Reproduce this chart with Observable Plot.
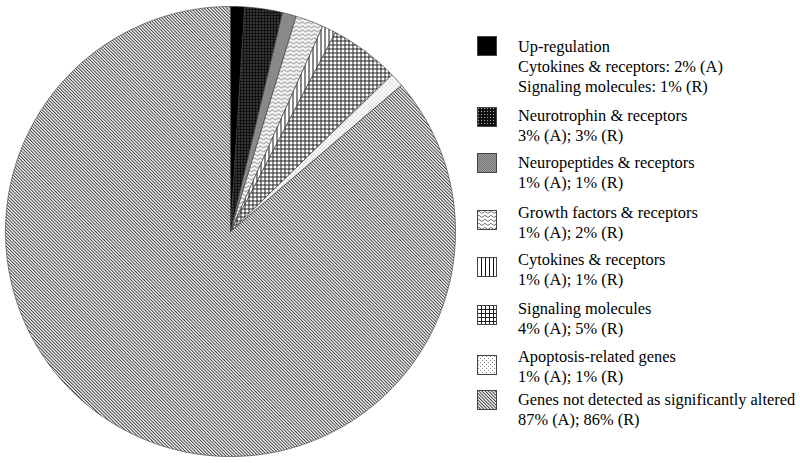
<!DOCTYPE html>
<html>
<head>
<meta charset="utf-8">
<script src="https://cdn.jsdelivr.net/npm/d3@7"></script>
<script src="https://cdn.jsdelivr.net/npm/@observablehq/plot@0.6"></script>
<style>
  html, body { margin: 0; padding: 0; background: #fff; }
  #wrap { position: relative; width: 800px; height: 463px; overflow: hidden; }
  #chart { position: absolute; left: 0; top: 0; }
  #legend { position: absolute; left: 0; top: 0; width: 800px; height: 463px; pointer-events: none;
            font-family: "Liberation Serif", "Times New Roman", serif; font-size: 16.4px; color: #000; }
  .sw { position: absolute; width: 20px; height: 20px; }
  .lb { position: absolute; left: 518px; line-height: 20px; white-space: nowrap; }
</style>
</head>
<body>
<svg width="0" height="0" style="position:absolute">
  <defs>
    <pattern id="p0" patternUnits="userSpaceOnUse" width="4" height="4">
      <rect width="4" height="4" fill="#000"/>
    </pattern>
    <pattern id="p1" patternUnits="userSpaceOnUse" width="3" height="3">
      <rect width="3" height="3" fill="#111"/>
      <rect x="1" y="1" width="1" height="1" fill="#aaa"/>
    </pattern>
    <pattern id="p2" patternUnits="userSpaceOnUse" width="2" height="2">
      <rect width="2" height="2" fill="#9a9a9a"/>
      <rect x="0" y="0" width="1" height="1" fill="#777"/>
      <rect x="1" y="1" width="1" height="1" fill="#777"/>
    </pattern>
    <pattern id="p3" patternUnits="userSpaceOnUse" width="6" height="4">
      <rect width="6" height="4" fill="#fff"/>
      <path d="M0,3 Q1.5,0 3,2 T6,3" fill="none" stroke="#555" stroke-width="0.9"/>
    </pattern>
    <pattern id="p4" patternUnits="userSpaceOnUse" width="4" height="4">
      <rect width="4" height="4" fill="#fff"/>
      <rect x="0" y="0" width="1" height="4" fill="#111"/>
    </pattern>
    <pattern id="p5" patternUnits="userSpaceOnUse" width="4" height="4">
      <rect width="4" height="4" fill="#fff"/>
      <rect x="0" y="0" width="1" height="4" fill="#222"/>
      <rect x="0" y="0" width="4" height="1" fill="#222"/>
    </pattern>
    <pattern id="p6" patternUnits="userSpaceOnUse" width="4" height="4">
      <rect width="4" height="4" fill="#fff"/>
      <rect x="1" y="1" width="1" height="1" fill="#888"/>
      <rect x="3" y="3" width="1" height="1" fill="#888"/>
    </pattern>
    <pattern id="p7" patternUnits="userSpaceOnUse" width="2.3" height="4" patternTransform="rotate(-45)">
      <rect width="2.3" height="4" fill="#fff"/>
      <rect x="0" y="0" width="1" height="4" fill="#3a3a3a"/>
    </pattern>
  </defs>
</svg>
<div id="wrap">
  <div id="chart"></div>
  <div id="legend"></div>
</div>
<script>
// ---- data ----
const categories = [
  "Up-regulation",
  "Neurotrophin & receptors",
  "Neuropeptides & receptors",
  "Growth factors & receptors",
  "Cytokines & receptors",
  "Signaling molecules",
  "Apoptosis-related genes",
  "Genes not detected as significantly altered"
];
// slice sizes (%)
const sliceValues = [1, 2.7, 1, 2, 1, 5, 1, 86];
// legend sub-lines
const legendDetails = [
  ["Cytokines & receptors: 2% (A)", "Signaling molecules: 1% (R)"],
  ["3% (A); 3% (R)"],
  ["1% (A); 1% (R)"],
  ["1% (A); 2% (R)"],
  ["1% (A); 1% (R)"],
  ["4% (A); 5% (R)"],
  ["1% (A); 1% (R)"],
  ["87% (A); 86% (R)"]
];
const patterns = ["p0","p1","p2","p3","p4","p5","p6","p7"];

// ---- layout (not data) ----
const legendTextCenters = [47, 116, 163, 213, 260, 309, 357, 400];
const legendSwatchCenters = [46, 117, 163, 220, 267, 315, 365, 400];

// ---- pie geometry from data ----
const arcs = d3.pie().sort(null).value(d => d.value)(
  categories.map((c, i) => ({cat: c, value: sliceValues[i], i}))
);
function slicePoints(a) {
  const pts = [{x: 0, y: 0}];
  const n = Math.max(2, Math.ceil((a.endAngle - a.startAngle) / (Math.PI / 360)));
  for (let k = 0; k <= n; k++) {
    const t = a.startAngle + (a.endAngle - a.startAngle) * k / n;
    pts.push({x: Math.sin(t), y: Math.cos(t)});
  }
  pts.push({x: 0, y: 0});
  return pts;
}

const marks = arcs.map(a => Plot.line(slicePoints(a), {
  x: "x", y: "y",
  fill: `url(#${patterns[a.data.i]})`,
  stroke: "#333", strokeWidth: 0.6, strokeLinejoin: "round"
}));

const chart = Plot.plot({
  width: 800, height: 463, margin: 0,
  x: {domain: [-1, 1], range: [5, 455], axis: null},
  y: {domain: [-1, 1], range: [456, 6], axis: null},
  marks
});
document.getElementById("chart").appendChild(chart);

// ---- legend ----
const legend = d3.select("#legend");
categories.forEach((c, i) => {
  const sy = legendSwatchCenters[i] - 10;
  const sw = legend.append("svg").attr("class", "sw")
    .style("left", "477px").style("top", sy + "px")
    .attr("width", 20).attr("height", 20);
  sw.append("rect").attr("x", 0.5).attr("y", 0.5).attr("width", 19).attr("height", 19)
    .attr("fill", `url(#${patterns[i]})`).attr("stroke", "#444").attr("stroke-width", 1);
  const lines = [c, ...legendDetails[i]];
  legend.append("div").attr("class", "lb")
    .style("top", (legendTextCenters[i] - 10) + "px")
    .html(lines.map(l => l.replace(/&/g, "&amp;")).join("<br>"));
});
</script>
</body>
</html>
